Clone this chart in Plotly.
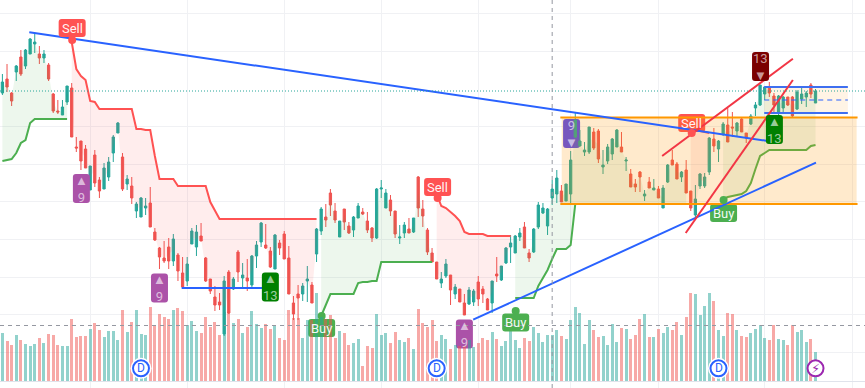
import plotly.graph_objects as go

# ---- candles (bar index = position in the lists) ----
direction = (
    "g r r g r g g g r g  r r r g g r r r r g  r r g g g g r g r g  g g r r r r r g r r "
    "g g g r r r r r g r  g r g r g g g r r g  r r r r r g g r g g  r r r g r r g g r r "
    "r g g g r r g g r g  r r r r r g g r g r  r g g r r r g r g g  g g g r r g g g g g "
    "g r g g g g g g r r  g g g g r g r r r g  r g r g g r r g r r  g g g g r g g r r g "
    "r r g g g g r r g g  r r g g g r g"
).split()

highs = [314,324,296,323,338,339,350,355,342,338,325,295,288,288,302,305,251,247,243,222,238,211,225,231,253,266,235,213,211,186,191,190,201,160,141,147,150,154,135,131,131,160,163,165,
131,109,102,95,112,118,111,138,125,129,133,147,166,164,141,154,148,157,142,92,103,105,122,106,160,181,184,199,185,167,179,166,172,185,180,176,161,200,208,199,193,177,163,166,170,170,212,188,160,140,126,116,129,113,104,99,94,101,99,112,102,90,107,131,122,141,153,153,160,166,139,160,186,185,180,208,218,203,204,237,275,258,246,261,260,259,238,244,250,259,256,231,219,209,217,198,211,209,202,203,224,238,226,217,228,197,203,215,215,251,260,248,266,280,276,266,271,255,274,286,303,301,306,295,293,292,291,292,298,301,297,305,299]
body_top = [306,309,295,322,331,338,349,346,334,334,323,294,277,281,302,300,241,247,239,222,233,208,220,226,251,265,231,209,202,184,190,182,185,156,140,130,141,149,133,115,124,157,156,152,
130,109,91,86,107,116,109,136,113,110,132,143,165,143,137,153,145,154,130,85,94,102,109,103,159,179,171,195,177,167,179,162,171,182,176,167,160,199,200,195,188,177,151,163,159,170,211,179,158,135,126,109,124,113,101,99,85,98,97,106,99,89,107,114,122,140,145,152,155,161,135,159,183,180,179,199,210,197,204,228,268,247,238,261,256,257,223,241,249,258,241,228,214,204,216,194,206,200,199,200,223,228,224,216,218,197,189,214,211,250,249,247,264,263,261,265,269,255,272,283,303,301,301,292,292,291,291,291,296,294,295,303,297]
body_bottom = [295,301,287,316,314,322,334,344,330,330,309,277,276,273,286,251,240,227,220,198,205,197,199,211,235,255,199,204,190,177,171,180,161,148,131,127,127,127,117,101,107,144,141,147,
107,97,83,83,54,75,99,116,110,107,103,132,146,140,121,119,140,129,94,74,90,94,107,85,134,157,168,183,168,151,166,155,158,170,174,158,150,150,199,180,177,154,150,155,155,156,180,172,136,126,109,105,112,98,94,86,73,84,86,89,94,78,85,112,108,125,141,135,151,140,130,136,161,175,162,190,194,186,187,194,251,242,236,236,240,229,221,227,234,241,236,227,201,201,211,192,200,198,190,180,206,223,209,211,195,180,173,202,202,216,242,239,254,246,260,257,256,250,264,280,283,294,295,283,276,280,283,272,279,289,291,294,285]
lows = [293,296,282,307,312,319,334,335,324,325,307,275,274,273,283,251,236,218,220,198,201,190,199,207,226,255,197,198,184,170,171,173,161,147,119,125,119,122,107,100,102,144,132,147,
106,94,77,78,52,74,98,106,101,97,100,120,141,139,120,119,133,129,94,68,68,87,86,85,126,153,161,172,165,151,158,154,151,170,173,155,146,149,190,180,172,150,144,150,155,155,171,161,133,126,109,100,110,83,89,86,73,83,82,82,85,78,75,106,107,124,125,135,147,140,126,135,159,174,153,183,185,186,187,184,250,242,232,234,238,225,214,224,228,241,236,217,201,196,196,187,200,198,190,180,205,223,209,206,195,177,168,199,200,213,236,226,252,246,251,251,256,245,263,272,282,288,291,274,273,276,282,271,278,284,281,290,285]

volumes = [144,120,108,138,123,111,105,111,129,114,141,138,108,105,105,186,132,136,135,156,174,153,132,150,150,123,213,147,177,213,141,138,222,168,201,192,186,213,219,210,168,180,150,144,192,162,177,138,207,207,174,186,144,162,210,171,159,171,156,168,129,123,213,
189,189,129,183,183,264,191,186,198,129,150,144,108,114,126,45,105,99,201,138,144,114,147,123,117,129,96,216,174,162,183,120,138,126,96,108,105,105,123,103,114,129,123,147,126,105,120,162,123,99,129,120,162,144,117,138,138,153,135,126,183,222,204,
111,183,153,132,135,108,171,117,159,156,126,138,186,201,132,132,156,144,162,153,177,138,192,264,261,198,225,264,240,153,135,204,201,153,135,132,144,156,168,129,123,168,126,123,108,168,147,153,117,126,87]

# ---- supertrend segments: first bar + value per bar ----
up_segments = [
    (0,   [227,228,229,235,245,248,265,269,269,269,269,269,269,269,269]),
    (69,  [72,83,94,94,94,94,94,94,105,106,106,107,107,126,126,126,126,126,126,126,126,126,126,126,126]),
    (111, [90,90,90,90,90,102,110,118,129,139,139,139,143,184,184,184,184,184,184,184,184,184,184,184,184,184,184,184,184,184,184,184,184,184,184,184,184,184]),
    (156, [189,191,192,193,194,197,205,219,232,235,238,238,238,238,238,238,238,238,238,242,243]),
]
down_segments = [
    (15,  [346,319,312,308,287,286,279,279,279,279,279,279,279,279,259,259,258,258,232,209,209,209,209,202,202,202,202,202,202,202,186,177,169,169,169,169,169,169,169,169,169,169,169,169,169,169,169,169,169,169,169,169,169,169]),
    (94,  [194,182,180,176,172,167,156,154,154,154,154,152,152,152,152,152,152]),
    (149, [258,257,257,256,255]),
]

# ---- drawings ----
down_line_x, down_line_y = [5.82, 165.3], [355.7, 247.3]
up_line_x, up_line_y = [101.9, 176.1], [68.3, 225.3]
flat_line_x, flat_line_y = [38.8, 56.2], [100, 100]
red_a_x, red_a_y = [142.8, 171.1], [232, 329.3]
red_b_x, red_b_y = [147.9, 171.1], [155, 308]
zone_x = [121.06, 184.9]
zone_prices = [270.5, 184]
box_x = [164.9, 183]
box_prices = [301, 288, 275]
last_price = 297
cross_bar, cross_price = 119.0, 62.5
price_grid = [374.5, 337, 262, 224, 186.5, 149, 111, 74, 36]
bar_grid = [19, 40, 61, 82, 103, 123, 142, 165, 184]

signal_text = ["Sell", "Sell", "Sell", "Buy", "Buy", "Buy"]
signal_x = [15.1, 94.2, 149.2, 69.1, 111.1, 156.1]
signal_y = [360, 201, 265, 60, 65.5, 175]
signal_dot_y = [348, 190, 255, 72, 77, 188]
signal_color = ["#ff5252", "#ff5252", "#ff5252", "#4caf50", "#4caf50", "#4caf50"]
signal_layer = ["above", "above", "between", "between", "above", "between"]

count_text = ["9", "9", "9", "9", "13", "13", "13"]
count_arrow = ["▲", "▲", "▲", "▼", "▼", "▲", "▲"]
count_x = [17.1, 34, 100, 123.2, 164.1, 58, 167.1]
count_y = [199.5, 100, 54, 254.5, 321.5, 101, 258.5]
count_color = ["#ab52a8", "#ab52a8", "#ab52a8", "#5648ee", "#7b0000", "#008000", "#008000"]
count_layer = ["above", "above", "between", "between", "above", "above", "above"]

event_bars = [30, 94, 155]
event_bar_bolt = 176
event_height = 38

N = len(highs)
bars = list(range(N))
is_up = [d == "g" for d in direction]
opens = [b if u else t for t, b, u in zip(body_top, body_bottom, is_up)]
closes = [t if u else b for t, b, u in zip(body_top, body_bottom, is_up)]
mids = [(t + b) / 2 for t, b in zip(body_top, body_bottom)]

GREEN, RED = "#26a69a", "#ef5350"
fig = go.Figure()


def band(start, vals, line, fill):
    xs = list(range(start, start + len(vals)))
    up = [mids[i] for i in xs]
    fig.add_trace(go.Scatter(x=xs + xs[::-1], y=vals + up[::-1], fill="toself", fillcolor=fill,
                             mode="none", hoverinfo="skip", showlegend=False))
    fig.add_trace(go.Scatter(x=xs, y=vals, mode="lines", line=dict(color=line, width=2),
                             hoverinfo="skip", showlegend=False))


fig.add_trace(go.Candlestick(x=bars, open=opens, high=highs, low=lows, close=closes,
                             increasing=dict(line=dict(color=GREEN, width=1), fillcolor=GREEN),
                             decreasing=dict(line=dict(color=RED, width=1), fillcolor=RED),
                             hoverinfo="skip", showlegend=False))
for s, v in up_segments:
    band(s, v, "#4caf50", "rgba(76,175,80,0.10)")
for s, v in down_segments:
    band(s, v, "#ff5252", "rgba(255,82,82,0.10)")


def poly(xs, ys, fill):
    fig.add_trace(go.Scatter(x=xs, y=ys, fill="toself", fillcolor=fill, mode="none",
                             hoverinfo="skip", showlegend=False))


def seg(xs, ys, color, width=2, dash=None):
    fig.add_trace(go.Scatter(x=xs, y=ys, mode="lines", line=dict(color=color, width=width, dash=dash),
                             hoverinfo="skip", showlegend=False))


poly([zone_x[0], zone_x[1], zone_x[1], zone_x[0]],
     [zone_prices[0], zone_prices[0], zone_prices[1], zone_prices[1]], "rgba(255,152,0,0.20)")
poly([box_x[0], box_x[1], box_x[1], box_x[0]],
     [box_prices[0], box_prices[0], box_prices[2], box_prices[2]], "rgba(255,152,0,0.10)")
for p in zone_prices:
    seg([zone_x[0] - 0.3, zone_x[1] + 0.2], [p, p], "#ff9800")
seg(box_x, [box_prices[0]] * 2, "#3f6ff0")
seg(box_x, [box_prices[2]] * 2, "#3f6ff0")
seg(box_x, [box_prices[1]] * 2, "rgba(41,98,255,0.5)", 2, "5px,4px")
seg(down_line_x, down_line_y, "#2962ff")
seg(up_line_x, up_line_y, "#2962ff")
seg(flat_line_x, flat_line_y, "#2962ff")
seg(red_a_x, red_a_y, "#f23645")
seg(red_b_x, red_b_y, "#f23645")

fig.add_trace(go.Scatter(x=signal_x, y=signal_dot_y, mode="markers", hoverinfo="skip", showlegend=False,
                         marker=dict(size=8, color=signal_color)))

# volume lives on its own overlaying axis, which paints above the price marks
fig.add_trace(go.Bar(x=bars, y=volumes, width=0.65, yaxis="y2", hoverinfo="skip", showlegend=False,
                     marker=dict(color=["rgba(38,166,154,0.5)" if u else "rgba(239,83,80,0.5)" for u in is_up],
                                 line=dict(width=0))))
fig.add_trace(go.Scatter(x=event_bars, y=[event_height] * 3, yaxis="y2", mode="markers",
                         hoverinfo="skip", showlegend=False,
                         marker=dict(size=21, color="white")))
fig.add_trace(go.Scatter(x=event_bars, y=[event_height] * 3, yaxis="y2", mode="markers",
                         hoverinfo="skip", showlegend=False,
                         marker=dict(size=16, color="white", line=dict(color="#2962ff", width=2))))
fig.add_trace(go.Scatter(x=[event_bar_bolt], y=[event_height], yaxis="y2", mode="markers",
                         hoverinfo="skip", showlegend=False,
                         marker=dict(size=16, color="white", line=dict(color="#9c27b0", width=2))))


def rrect(w, h, r=3):
    a, b = w / 2, h / 2
    return (f"M {-a + r} {-b} L {a - r} {-b} Q {a} {-b} {a} {-b + r} L {a} {b - r} Q {a} {b} {a - r} {b} "
            f"L {-a + r} {b} Q {-a} {b} {-a} {b - r} L {-a} {-b + r} Q {-a} {-b} {-a + r} {-b} Z")


shapes, notes = [], []
FONT = "Roboto, Arial, sans-serif"
for t, x, y, c, l in zip(signal_text, signal_x, signal_y, signal_color, signal_layer):
    shapes.append(dict(type="path", xref="x", yref="y", xsizemode="pixel", ysizemode="pixel",
                       xanchor=x, yanchor=y, path=rrect(27, 18), fillcolor=c, line=dict(width=0), layer=l))
    notes.append(dict(x=x, y=y, xref="x", yref="y", text=t, showarrow=False,
                      font=dict(family=FONT, size=13, color="rgba(255,255,255,0.95)")))
for t, a, x, y, c, l in zip(count_text, count_arrow, count_x, count_y, count_color, count_layer):
    shapes.append(dict(type="path", xref="x", yref="y", xsizemode="pixel", ysizemode="pixel",
                       xanchor=x, yanchor=y, path=rrect(17, 29), fillcolor=c, line=dict(width=0), layer=l))
    stacked = f"{a}<br>{t}" if a == "▲" else f"{t}<br>{a}"
    notes.append(dict(x=x, y=y, xref="x", yref="y", text=stacked, showarrow=False,
                      font=dict(family=FONT, size=13, color="rgba(255,255,255,0.62)")))
for i in event_bars:
    notes.append(dict(x=i, y=event_height, xref="x", yref="y2", text="D", showarrow=False,
                      font=dict(family=FONT, size=12, color="#2962ff")))
notes.append(dict(x=event_bar_bolt, y=event_height, xref="x", yref="y2", text="⚡", showarrow=False,
                  font=dict(family="DejaVu Sans", size=13, color="#9c27b0")))

shapes.append(dict(type="line", xref="paper", yref="y", x0=0, x1=1, y0=last_price, y1=last_price,
                   line=dict(color=GREEN, width=1, dash="1px,2px"), layer="above"))
shapes.append(dict(type="line", xref="paper", yref="y", x0=0, x1=1, y0=cross_price, y1=cross_price,
                   line=dict(color="#9598a1", width=1, dash="4px,4px"), layer="above"))
shapes.append(dict(type="line", xref="x", yref="paper", x0=cross_bar, x1=cross_bar, y0=0, y1=1,
                   line=dict(color="#9598a1", width=1, dash="4px,4px"), layer="above"))

GRID = "#f0f1f4"
fig.update_layout(
    width=865, height=388, autosize=False,
    margin=dict(l=0, r=0, t=0, b=0),
    paper_bgcolor="white", plot_bgcolor="white", showlegend=False, bargap=0, boxgap=0.3,
    xaxis=dict(range=[-2.4 / 4.62, (865 - 2.4) / 4.62], tickvals=bar_grid, showticklabels=False, ticks="",
               showgrid=True, gridcolor=GRID, gridwidth=1, zeroline=False, rangeslider=dict(visible=False),
               showline=False, fixedrange=True),
    yaxis=dict(range=[0, 388], tickvals=price_grid, showticklabels=False, ticks="",
               showgrid=True, gridcolor=GRID, gridwidth=1, zeroline=False, showline=False, fixedrange=True),
    yaxis2=dict(overlaying="y", range=[-21, 1143], showgrid=False, showticklabels=False, ticks="",
                zeroline=True, zerolinecolor="#e0e3eb", zerolinewidth=1, showline=False, fixedrange=True),
    shapes=shapes, annotations=notes,
)
fig.write_html("out.html", config=dict(displayModeBar=False),
               post_script="document.body.style.margin='0';document.documentElement.style.overflow='hidden';")
